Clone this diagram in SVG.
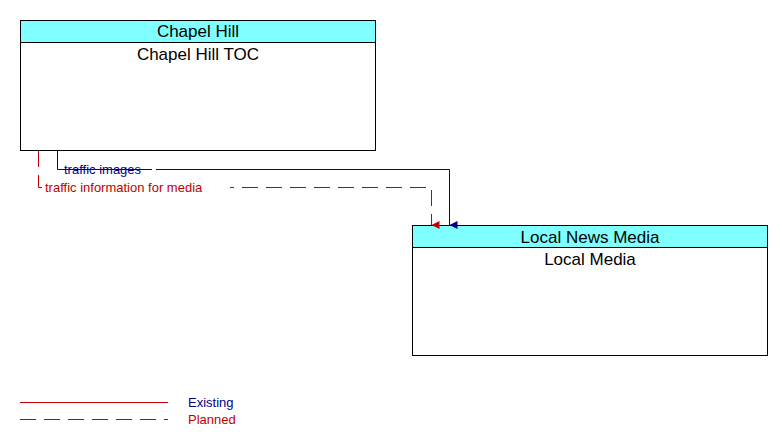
<svg xmlns="http://www.w3.org/2000/svg" width="782" height="445" viewBox="0 0 782 445">
<style>
.box{fill:#fff;stroke:#000;stroke-width:1}
.hdr{fill:#7fffff;stroke:#000;stroke-width:1}
.t{font-family:"Liberation Sans",Arial,sans-serif;font-size:17px;text-anchor:middle;fill:#000}
.l{font-family:"Liberation Sans",Arial,sans-serif;font-size:13px}
.ex{stroke:#00008b;fill:none;stroke-width:1}
.pl{stroke:#c00000;fill:none;stroke-width:1;stroke-dasharray:16,8}
</style>
<defs>
<marker id="ab" markerWidth="8" markerHeight="8" refX="4" refY="8" orient="auto" markerUnits="userSpaceOnUse" viewBox="0 0 8 8"><path d="M0,0 L8,0 L4,8z" fill="#00008b"/></marker>
<marker id="ar" markerWidth="8" markerHeight="8" refX="4" refY="8" orient="auto" markerUnits="userSpaceOnUse" viewBox="0 0 8 8"><path d="M0,0 L8,0 L4,8z" fill="#c00000"/></marker>
</defs>
<g id="chapel-hill-toc">
<rect class="box" x="20.5" y="20.5" width="355" height="130"/>
<rect class="hdr" x="20.5" y="20.5" width="355" height="22"/>
<text class="t" x="198" y="37">Chapel Hill</text>
<text class="t" x="198" y="60">Chapel Hill TOC</text>
</g>
<g id="local-media">
<rect class="box" x="412.5" y="225.5" width="355" height="130"/>
<rect class="hdr" x="412.5" y="225.5" width="355" height="22"/>
<text class="t" x="590" y="243">Local News Media</text>
<text class="t" x="590" y="265">Local Media</text>
</g>
<g id="connectors">
<path class="ex" d="M57.5,151 V169.5 H449.5 V225" marker-end="url(#ab)"/>
<text class="l" x="64" y="174" fill="#00008b">traffic images</text>
<path class="pl" d="M38.5,151 V187.5 H431.5 V225" marker-end="url(#ar)"/>
<rect x="44" y="180" width="186" height="15" fill="#fff"/>
<text class="l" x="45" y="192" fill="#c00000">traffic information for media</text>
<rect x="152" y="163" width="4" height="10" fill="#fff"/>
</g>
<g id="legend">
<line x1="20" y1="402.5" x2="168" y2="402.5" stroke="#c00000"/>
<line x1="20" y1="419.5" x2="168" y2="419.5" stroke="#c00000" stroke-dasharray="16,8"/>
<text class="l" x="188" y="407" fill="#00008b" font-size="14">Existing</text>
<text class="l" x="188" y="424" fill="#c00000" font-size="14">Planned</text>
</g>
</svg>
